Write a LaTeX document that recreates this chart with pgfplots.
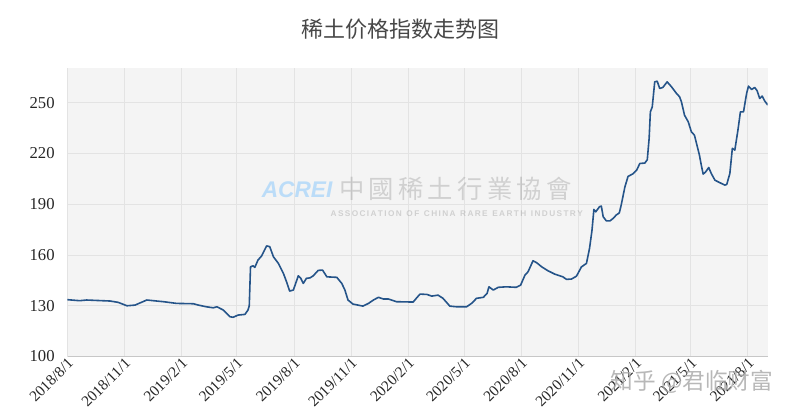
\documentclass[border=0pt]{standalone}
\usepackage{pgfplots}
\pgfplotsset{compat=1.18}
\usepackage{fontspec}
\setmainfont{Liberation Serif}
\newfontfamily\cjk{Noto Sans CJK SC}
\newfontfamily\cjktc{Noto Sans CJK TC}
\newfontfamily\sansf{Liberation Sans}
\usetikzlibrary{calc}
\definecolor{linec}{HTML}{255489}
\definecolor{bgc}{HTML}{F4F4F4}
\definecolor{gridc}{HTML}{E3E3E3}
\begin{document}
\begin{tikzpicture}
\begin{axis}[
  scale only axis, width=525.3pt, height=216.4pt,
  xmin=0, xmax=1128, ymin=100, ymax=270.5,
  axis background/.style={fill=bgc},
  grid=major, grid style={draw=gridc, line width=0.7pt},
  axis x line*=bottom, axis y line*=left,
  x axis line style={-, draw=black!22, line width=0.7pt},
  y axis line style={-, draw=gridc, line width=0.7pt},
  major tick length=0pt,
  ytick={100,130,160,190,220,250},
  xtick={0,92,184,273,365,457,549,639,731,823,915,1004,1096},
  xticklabels={2018/8/1,2018/11/1,2019/2/1,2019/5/1,2019/8/1,2019/11/1,2020/2/1,2020/5/1,2020/8/1,2020/11/1,2021/2/1,2021/5/1,2021/8/1},
  x tick label style={rotate=45, anchor=east, font=\fontsize{11.5}{11.5}\selectfont, text=black!85, xshift=3pt, yshift=-4pt},
  y tick label style={font=\fontsize{12.5}{12.5}\selectfont, text=black!85, xshift=-6pt},
  /pgf/number format/assume math mode=true,
]
\node[text=blue!45!cyan!60!white, opacity=0.4, font=\sansf\bfseries\itshape\fontsize{17}{17}\selectfont] at (rel axis cs:0.328,0.577) {ACREI};
\node[text=gray, opacity=0.3, font=\cjktc\fontsize{19}{19}\selectfont] at (rel axis cs:0.554,0.580) {中\,國\,稀\,土\,行\,業\,協\,會};
\node[text=gray, opacity=0.3, font=\sansf\bfseries\fontsize{6.2}{6.2}\selectfont] at (rel axis cs:0.556,0.494) {A\,S\,S\,O\,C\,I\,A\,T\,I\,O\,N\ \ O\,F\ \ C\,H\,I\,N\,A\ \ R\,A\,R\,E\ \ E\,A\,R\,T\,H\ \ I\,N\,D\,U\,S\,T\,R\,Y};
\addplot[linec, line width=1.2pt, line join=round] coordinates {
(0,133.6)(20,133.0)(31,133.4)(69,132.8)(82,132.0)(96,130.0)(109,130.4)(128,133.4)(144,132.8)(155,132.4)
(176,131.4)(203,131.2)(211,130.4)(224,129.4)(235,128.8)(241,129.4)(251,127.5)(262,123.5)(267,123.2)(275,124.5)
(286,124.9)(291,127.5)(293,130)(295,153.0)(299,153.6)(302,152.7)(307,157.0)(313,159.5)(321,165.4)(326,164.9)
(332,158.9)(340,155.0)(348,149.1)(353,144.2)(358,138.7)(364,139.3)(372,147.7)(376,146.2)(380,143.2)(385,146.2)
(391,146.5)(396,147.7)(404,150.9)(411,151.1)(418,147.1)(434,146.8)(442,143.2)(447,139.3)(452,133.4)(460,131.0)
(468,130.4)(476,129.8)(485,131.4)(493,133.4)(501,135.0)(509,134.0)(517,134.0)(530,132.4)(557,132.2)(562,134.4)
(568,136.9)(579,136.7)(587,135.7)(597,136.3)(605,134.4)(616,129.8)(627,129.4)(643,129.4)(651,131.4)(659,134.4)
(670,135.0)(676,137.3)(679,141.2)(686,139.3)(694,140.9)(707,141.2)(723,140.9)(730,142.2)(737,148.1)(742,150.1)
(750,156.6)(756,155.4)(764,153.0)(774,150.7)(785,148.7)(798,147.1)(804,145.6)(812,145.8)(820,147.5)(828,153.0)
(836,155.0)(841,163.9)(845,174.7)(848,186.9)(851,185.5)(857,188.5)(860,188.9)(863,182.6)(868,180.2)(874,180.2)
(879,181.6)(884,183.6)(889,184.9)(892,189.5)(898,200.3)(903,206.4)(911,208.0)(917,210.2)(922,214.1)(930,214.3)
(934,216.3)(937,228.9)(939,244.6)(942,247.5)(946,262.3)(950,262.7)(954,258.4)(959,259.0)(966,262.3)(973,259.4)
(981,255.5)(986,253.5)(989,250.5)(994,242.6)(1000,238.7)(1005,232.8)(1010,230.8)(1018,219.0)(1021,213.1)(1024,207.8)
(1028,209.1)(1033,211.7)(1037,208.2)(1043,204.2)(1051,202.7)(1059,201.3)(1062,201.7)(1067,208.2)(1071,223.0)(1075,222.0)
(1080,233.8)(1084,244.6)(1089,244.6)(1094,255.5)(1097,259.8)(1102,257.8)(1107,259.0)(1111,257.0)(1115,252.5)(1119,253.9)
(1123,251.1)(1128,248.6)
};
\end{axis}
\node[text=black!72, font=\cjk\fontsize{16.5}{16.5}\selectfont] at ($(current axis.north)+(-13pt,29pt)$) {稀土价格指数走势图};
\node[text=black!35, opacity=0.8, font=\cjk\fontsize{17}{17}\selectfont] at ($(current axis.south west)+(468.5pt,-19pt)$) {知乎 @君临财富};
\pgfresetboundingbox
\path ($(current axis.south west)+(-50.5pt,-46.9pt)$) rectangle ($(current axis.north east)+(24.2pt,51pt)$);
\end{tikzpicture}
\end{document}
